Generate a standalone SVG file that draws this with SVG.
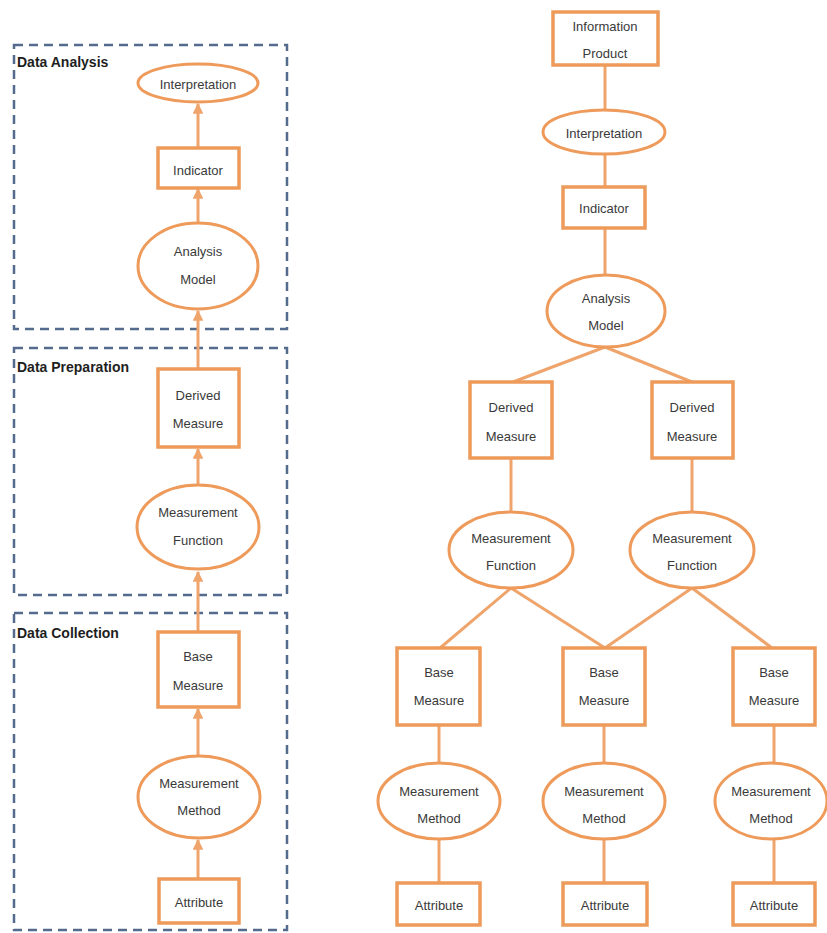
<svg xmlns="http://www.w3.org/2000/svg" width="827" height="933" viewBox="0 0 827 933">
<style>
.box{fill:#fff;stroke:#EE9A5A;stroke-width:3.5}
.ell{fill:#fff;stroke:#EE9A5A;stroke-width:3}
.grp{fill:none;stroke:#556B8D;stroke-width:2.5;stroke-dasharray:9 6}
.lbl{font-family:"Liberation Sans",Arial,sans-serif;font-size:13px;fill:#3A3A3A;text-anchor:middle;dominant-baseline:central}
.ttl{font-family:"Liberation Sans",Arial,sans-serif;font-size:14px;font-weight:bold;fill:#1E1E1E}
.ln{stroke:#EFA46C;stroke-width:3;fill:none}
</style>
<defs>
<marker id="ah" viewBox="0 0 10 10" refX="9" refY="5" markerWidth="3.6" markerHeight="3.6" orient="auto" markerUnits="strokeWidth">
<path d="M0,0 L10,5 L0,10 z" fill="#EFA46C"/>
</marker>
</defs>
<rect width="827" height="933" fill="#fff"/>

<g id="groups">
<g id="grp-analysis"><rect class="grp" x="14" y="45" width="273" height="284"/><text class="ttl" x="17" y="67">Data Analysis</text></g>
<g id="grp-preparation"><rect class="grp" x="14" y="348" width="273" height="247"/><text class="ttl" x="17" y="372">Data Preparation</text></g>
<g id="grp-collection"><rect class="grp" x="14" y="613" width="273" height="317"/><text class="ttl" x="17" y="638">Data Collection</text></g>
</g>

<g id="connectors">
<line class="ln" x1="198" y1="879" x2="198" y2="840" marker-end="url(#ah)"/>
<line class="ln" x1="198" y1="755" x2="198" y2="709" marker-end="url(#ah)"/>
<line class="ln" x1="198" y1="632" x2="198" y2="572" marker-end="url(#ah)"/>
<line class="ln" x1="198" y1="485" x2="198" y2="449" marker-end="url(#ah)"/>
<line class="ln" x1="198" y1="369" x2="198" y2="311" marker-end="url(#ah)"/>
<line class="ln" x1="198" y1="223" x2="198" y2="189" marker-end="url(#ah)"/>
<line class="ln" x1="198" y1="148" x2="198" y2="104" marker-end="url(#ah)"/>

<line class="ln" x1="605" y1="65" x2="605" y2="110"/>
<line class="ln" x1="605" y1="154" x2="605" y2="187"/>
<line class="ln" x1="605" y1="228" x2="605" y2="275"/>
<line class="ln" x1="605" y1="347" x2="513" y2="382"/>
<line class="ln" x1="605" y1="347" x2="692" y2="382"/>
<line class="ln" x1="511" y1="458" x2="511" y2="512"/>
<line class="ln" x1="692" y1="458" x2="692" y2="512"/>
<line class="ln" x1="511" y1="588" x2="440" y2="648"/>
<line class="ln" x1="511" y1="588" x2="605" y2="648"/>
<line class="ln" x1="692" y1="588" x2="605" y2="648"/>
<line class="ln" x1="692" y1="588" x2="772" y2="648"/>
<line class="ln" x1="439" y1="725" x2="439" y2="763"/>
<line class="ln" x1="604" y1="725" x2="604" y2="763"/>
<line class="ln" x1="774" y1="725" x2="774" y2="763"/>
<line class="ln" x1="439" y1="840" x2="439" y2="883"/>
<line class="ln" x1="604" y1="840" x2="604" y2="883"/>
<line class="ln" x1="774" y1="840" x2="774" y2="883"/>
</g>

<g id="left-interpretation"><ellipse class="ell" cx="198" cy="83" rx="60" ry="19"/><text class="lbl" x="198" y="84">Interpretation</text></g>
<g id="left-indicator"><rect class="box" x="158" y="148" width="81" height="40"/><text class="lbl" x="198" y="170">Indicator</text></g>
<g id="left-analysis-model"><ellipse class="ell" cx="198" cy="266" rx="60" ry="43"/><text class="lbl" x="198" y="251">Analysis</text><text class="lbl" x="198" y="279">Model</text></g>
<g id="left-derived-measure"><rect class="box" x="158" y="369" width="81" height="78"/><text class="lbl" x="198" y="395">Derived</text><text class="lbl" x="198" y="423">Measure</text></g>
<g id="left-measurement-function"><ellipse class="ell" cx="198" cy="527" rx="61" ry="42"/><text class="lbl" x="198" y="512">Measurement</text><text class="lbl" x="198" y="540">Function</text></g>
<g id="left-base-measure"><rect class="box" x="158" y="632" width="81" height="75"/><text class="lbl" x="198" y="656">Base</text><text class="lbl" x="198" y="685">Measure</text></g>
<g id="left-measurement-method"><ellipse class="ell" cx="199" cy="797" rx="61" ry="41"/><text class="lbl" x="199" y="783">Measurement</text><text class="lbl" x="199" y="810">Method</text></g>
<g id="left-attribute"><rect class="box" x="159" y="879" width="80" height="44"/><text class="lbl" x="199" y="902">Attribute</text></g>

<g id="info-product"><rect class="box" x="553" y="12" width="105" height="53"/><text class="lbl" x="605" y="26">Information</text><text class="lbl" x="605" y="53">Product</text></g>
<g id="interpretation"><ellipse class="ell" cx="604" cy="132" rx="61" ry="22"/><text class="lbl" x="604" y="133">Interpretation</text></g>
<g id="indicator"><rect class="box" x="563" y="187" width="82" height="41"/><text class="lbl" x="604" y="208">Indicator</text></g>
<g id="analysis-model"><ellipse class="ell" cx="606" cy="311" rx="59" ry="36"/><text class="lbl" x="606" y="298">Analysis</text><text class="lbl" x="606" y="325">Model</text></g>
<g id="derived-measure-1"><rect class="box" x="470" y="382" width="82" height="76"/><text class="lbl" x="511" y="407">Derived</text><text class="lbl" x="511" y="436">Measure</text></g>
<g id="derived-measure-2"><rect class="box" x="652" y="382" width="81" height="76"/><text class="lbl" x="692" y="407">Derived</text><text class="lbl" x="692" y="436">Measure</text></g>
<g id="measurement-function-1"><ellipse class="ell" cx="511" cy="550" rx="62" ry="38"/><text class="lbl" x="511" y="538">Measurement</text><text class="lbl" x="511" y="565">Function</text></g>
<g id="measurement-function-2"><ellipse class="ell" cx="692" cy="550" rx="62" ry="38"/><text class="lbl" x="692" y="538">Measurement</text><text class="lbl" x="692" y="565">Function</text></g>
<g id="base-measure-1"><rect class="box" x="397" y="648" width="83" height="77"/><text class="lbl" x="439" y="672">Base</text><text class="lbl" x="439" y="700">Measure</text></g>
<g id="base-measure-2"><rect class="box" x="563" y="648" width="82" height="77"/><text class="lbl" x="604" y="672">Base</text><text class="lbl" x="604" y="700">Measure</text></g>
<g id="base-measure-3"><rect class="box" x="733" y="648" width="82" height="77"/><text class="lbl" x="774" y="672">Base</text><text class="lbl" x="774" y="700">Measure</text></g>
<g id="measurement-method-1"><ellipse class="ell" cx="439" cy="801" rx="61" ry="38"/><text class="lbl" x="439" y="791">Measurement</text><text class="lbl" x="439" y="818">Method</text></g>
<g id="measurement-method-2"><ellipse class="ell" cx="604" cy="801" rx="61" ry="38"/><text class="lbl" x="604" y="791">Measurement</text><text class="lbl" x="604" y="818">Method</text></g>
<g id="measurement-method-3"><ellipse class="ell" cx="771" cy="801" rx="56" ry="38"/><text class="lbl" x="771" y="791">Measurement</text><text class="lbl" x="771" y="818">Method</text></g>
<g id="attribute-1"><rect class="box" x="397" y="883" width="83" height="42"/><text class="lbl" x="439" y="905">Attribute</text></g>
<g id="attribute-2"><rect class="box" x="563" y="883" width="84" height="42"/><text class="lbl" x="605" y="905">Attribute</text></g>
<g id="attribute-3"><rect class="box" x="733" y="883" width="82" height="42"/><text class="lbl" x="774" y="905">Attribute</text></g>
</svg>
